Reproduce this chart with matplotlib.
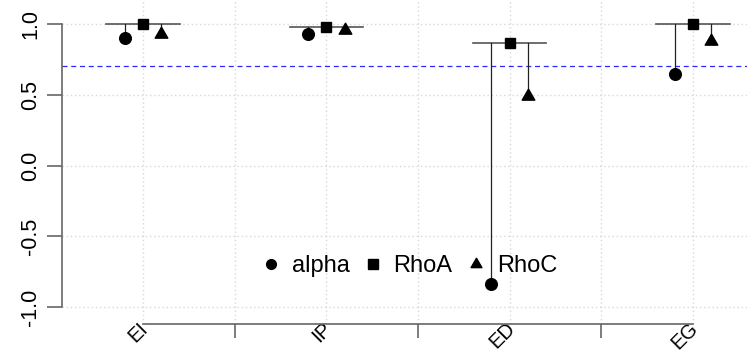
import matplotlib
matplotlib.use("Agg")
import matplotlib.pyplot as plt
import numpy as np
from matplotlib.path import Path
from matplotlib.lines import Line2D

categories = ['EI', 'IP', 'ED', 'EG']
alpha = [0.90, 0.93, -0.84, 0.645]
rhoA = [1.00, 0.98, 0.865, 1.00]
rhoC = [0.93, 0.955, 0.49, 0.88]
threshold = 0.70
yticks = [-1.0, -0.5, 0.0, 0.5, 1.0]
ytick_labels = ['-1.0', '-0.5', '0.0', '0.5', '1.0']

plt.rcParams['font.family'] = ['Liberation Sans', 'DejaVu Sans']

W, H = 747, 352
fig = plt.figure(figsize=(W / 100, H / 100), dpi=100)
ax = fig.add_axes([62 / W, (H - 324) / H, 1 - 62 / W, 324 / H])

# R-style triangle (centroid at the data point)
tri = Path([(0, 1), (-0.866, -0.5), (0.866, -0.5), (0, 1)],
           [Path.MOVETO, Path.LINETO, Path.LINETO, Path.CLOSEPOLY])

x = np.arange(1, len(categories) + 1)
off = 0.1
half = 0.2

# grid
for xv in np.arange(1, len(categories) + 0.01, 0.5):
    ax.axvline(xv, color='#d8d8d8', lw=1, ls=(0, (1, 2)), zorder=0)
for yv in yticks:
    ax.axhline(yv, color='#d8d8d8', lw=1, ls=(0, (1, 2)), zorder=0)

ax.axhline(threshold, color='#2a2aff', lw=0.9, ls=(0, (4, 3)), zorder=1)

for i in range(len(categories)):
    vals = [alpha[i], rhoA[i], rhoC[i]]
    top = max(vals)
    ax.plot([x[i] - half, x[i] + half], [top, top], color='#555555', lw=1.2, zorder=2)
    for dx, v in zip([-off, 0, off], vals):
        ax.plot([x[i] + dx, x[i] + dx], [top, v], color='#222222', lw=0.9, zorder=2)

ax.plot(x - off, alpha, ls='none', marker='o', ms=8.4, color='black', zorder=3)
ax.plot(x, rhoA, ls='none', marker='s', ms=7.7, color='black', zorder=3)
ax.plot(x + off, rhoC, ls='none', marker=tri, ms=10.5, color='black', zorder=3)

ax.set_xlim(0.558, 4.295)
ax.set_ylim(-1.119, 1.169)

for s in ['top', 'right']:
    ax.spines[s].set_visible(False)
ax.spines['left'].set_bounds(-1, 1)
ax.spines['bottom'].set_bounds(1, 4)
for s in ['left', 'bottom']:
    ax.spines[s].set_color('#666666')
    ax.spines[s].set_linewidth(1.2)

ax.set_yticks(yticks)
ax.set_yticklabels(ytick_labels, rotation=90, va='center', fontsize=15.5)
ax.tick_params(axis='y', length=10.8, width=1.2, color='#666666', pad=4)

ax.set_xticks(x + 0.012)
ax.set_xticklabels(categories, fontsize=14.5, rotation=45, ha='right',
                   va='center', rotation_mode='anchor')
ax.set_xticks(np.arange(1.5, len(categories), 1.0), minor=True)
ax.tick_params(axis='x', which='major', length=0, pad=1)
ax.tick_params(axis='x', which='minor', length=10, width=1.2, color='#666666')

handles = [
    Line2D([], [], ls='none', marker='o', ms=7, color='black'),
    Line2D([], [], ls='none', marker='s', ms=6.5, color='black'),
    Line2D([], [], ls='none', marker=tri, ms=9, color='black'),
]
leg = ax.legend(handles, ['alpha', 'RhoA', 'RhoC'], ncol=3, frameon=False,
                fontsize=17, handlelength=0.5, handletextpad=0.62,
                columnspacing=0.75, loc='center',
                bbox_to_anchor=(411 / W, (H - 266) / H),
                bbox_transform=fig.transFigure, borderpad=0, borderaxespad=0)

fig.savefig('out.png', dpi=100)
